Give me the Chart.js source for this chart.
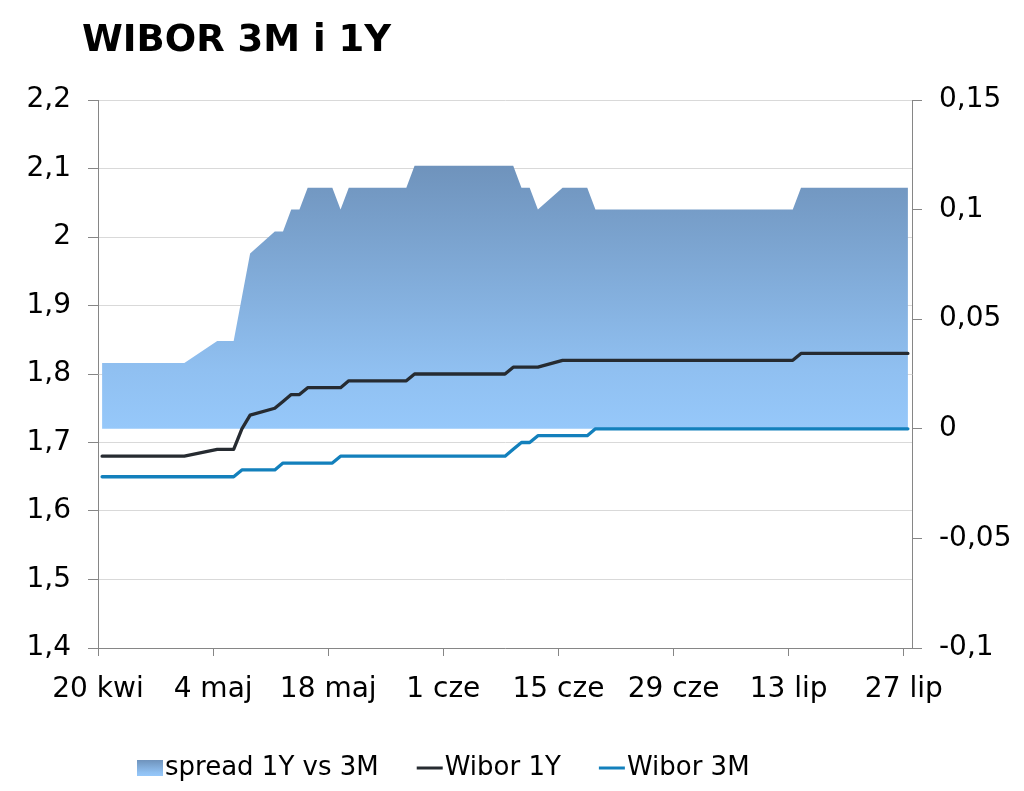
<!DOCTYPE html>
<html>
<head>
<meta charset="utf-8">
<title>WIBOR 3M i 1Y</title>
<script src="https://cdn.jsdelivr.net/npm/chart.js@4.4.1/dist/chart.umd.min.js"></script>
<style>
  body { margin: 0; background: #fff; }
  #wrap { width: 1024px; height: 791px; position: relative; }
</style>
</head>
<body>
<div id="wrap"><canvas id="wiborChart"></canvas></div>
<script>
const chartTitle = "WIBOR 3M i 1Y";

// fixing days (2015), weekends and holidays left out
const dates = [
  "2015-04-20", "2015-04-21", "2015-04-22", "2015-04-23", "2015-04-24",
  "2015-04-27", "2015-04-28", "2015-04-29", "2015-04-30",
  "2015-05-04", "2015-05-05", "2015-05-06", "2015-05-07", "2015-05-08",
  "2015-05-11", "2015-05-12", "2015-05-13", "2015-05-14", "2015-05-15",
  "2015-05-18", "2015-05-19", "2015-05-20", "2015-05-21", "2015-05-22",
  "2015-05-25", "2015-05-26", "2015-05-27", "2015-05-28", "2015-05-29",
  "2015-06-01", "2015-06-02", "2015-06-03", "2015-06-05",
  "2015-06-08", "2015-06-09", "2015-06-10", "2015-06-11", "2015-06-12",
  "2015-06-15", "2015-06-16", "2015-06-17", "2015-06-18", "2015-06-19",
  "2015-06-22", "2015-06-23", "2015-06-24", "2015-06-25", "2015-06-26",
  "2015-06-29", "2015-06-30", "2015-07-01", "2015-07-02", "2015-07-03",
  "2015-07-06", "2015-07-07", "2015-07-08", "2015-07-09", "2015-07-10",
  "2015-07-13", "2015-07-14", "2015-07-15", "2015-07-16", "2015-07-17",
  "2015-07-20", "2015-07-21", "2015-07-22", "2015-07-23", "2015-07-24",
  "2015-07-27"
];

const wibor1Y = [
  1.68, 1.68, 1.68, 1.68, 1.68,
  1.68, 1.68, 1.68, 1.68,
  1.69, 1.69, 1.69, 1.72, 1.74,
  1.75, 1.76, 1.77, 1.77, 1.78,
  1.78, 1.78, 1.79, 1.79, 1.79,
  1.79, 1.79, 1.79, 1.80, 1.80,
  1.80, 1.80, 1.80, 1.80,
  1.80, 1.81, 1.81, 1.81, 1.81,
  1.82, 1.82, 1.82, 1.82, 1.82,
  1.82, 1.82, 1.82, 1.82, 1.82,
  1.82, 1.82, 1.82, 1.82, 1.82,
  1.82, 1.82, 1.82, 1.82, 1.82,
  1.82, 1.83, 1.83, 1.83, 1.83,
  1.83, 1.83, 1.83, 1.83, 1.83,
  1.83
];

const wibor3M = [
  1.65, 1.65, 1.65, 1.65, 1.65,
  1.65, 1.65, 1.65, 1.65,
  1.65, 1.65, 1.65, 1.66, 1.66,
  1.66, 1.67, 1.67, 1.67, 1.67,
  1.67, 1.68, 1.68, 1.68, 1.68,
  1.68, 1.68, 1.68, 1.68, 1.68,
  1.68, 1.68, 1.68, 1.68,
  1.68, 1.69, 1.70, 1.70, 1.71,
  1.71, 1.71, 1.71, 1.71, 1.72,
  1.72, 1.72, 1.72, 1.72, 1.72,
  1.72, 1.72, 1.72, 1.72, 1.72,
  1.72, 1.72, 1.72, 1.72, 1.72,
  1.72, 1.72, 1.72, 1.72, 1.72,
  1.72, 1.72, 1.72, 1.72, 1.72,
  1.72
];

// spread 1Y vs 3M (right axis)
const spread = [
  0.03, 0.03, 0.03, 0.03, 0.03,
  0.03, 0.03, 0.03, 0.03,
  0.04, 0.04, 0.04, 0.06, 0.08,
  0.09, 0.09, 0.10, 0.10, 0.11,
  0.11, 0.10, 0.11, 0.11, 0.11,
  0.11, 0.11, 0.11, 0.12, 0.12,
  0.12, 0.12, 0.12, 0.12,
  0.12, 0.12, 0.11, 0.11, 0.10,
  0.11, 0.11, 0.11, 0.11, 0.10,
  0.10, 0.10, 0.10, 0.10, 0.10,
  0.10, 0.10, 0.10, 0.10, 0.10,
  0.10, 0.10, 0.10, 0.10, 0.10,
  0.10, 0.11, 0.11, 0.11, 0.11,
  0.11, 0.11, 0.11, 0.11, 0.11,
  0.11
];

const tickDates = ["2015-04-20", "2015-05-04", "2015-05-18", "2015-06-01", "2015-06-15", "2015-06-29", "2015-07-13", "2015-07-27"];
const tickLabels = ["20 kwi", "4 maj", "18 maj", "1 cze", "15 cze", "29 cze", "13 lip", "27 lip"];

// days counted from the first fixing
function dayOf(s) {
  return Math.round((Date.parse(s) - Date.parse(dates[0])) / 86400000);
}
const days = dates.map(dayOf);
const lastDay = days[days.length - 1];

function toPoints(values) {
  return values.map((v, i) => ({ x: days[i], y: v }));
}

function plFormat(v) {
  return String(Number(v.toFixed(2))).replace(".", ",");
}

const FONT = "'DejaVu Sans', Verdana, sans-serif";
const axisGrey = "#868686";

function spreadGradient(ctx, top, bottom) {
  const g = ctx.createLinearGradient(0, top, 0, bottom);
  g.addColorStop(0, "#6f93bc");
  g.addColorStop(0.78, "#90c0f1");
  g.addColorStop(1, "#96c8fa");
  return g;
}

// title + legend drawn by hand so they sit where the original has them
const titleAndLegend = {
  id: "titleAndLegend",
  afterDraw(chart) {
    const ctx = chart.ctx;
    ctx.save();
    ctx.fillStyle = "#000";
    ctx.textBaseline = "alphabetic";
    ctx.font = "bold 37px " + FONT;
    ctx.fillText(chartTitle, 82, 51);

    ctx.font = "26px " + FONT;
    ctx.textBaseline = "middle";
    let x = 137;
    const y = 768;
    chart.data.datasets.forEach(ds => {
      if (ds.fill) {
        ctx.fillStyle = spreadGradient(ctx, y - 8, y + 8);
        ctx.fillRect(x, y - 8, 26, 16);
      } else {
        ctx.strokeStyle = ds.borderColor;
        ctx.lineWidth = 3;
        ctx.beginPath();
        ctx.moveTo(x, y);
        ctx.lineTo(x + 26, y);
        ctx.stroke();
      }
      ctx.fillStyle = "#000";
      ctx.fillText(ds.label, x + 28, y);
      x += 28 + ctx.measureText(ds.label).width + 38;
    });
    ctx.restore();
  }
};

Chart.defaults.font.family = FONT;
Chart.defaults.color = "#000";

const ctx = document.getElementById("wiborChart").getContext("2d");

new Chart(ctx, {
  type: "line",
  data: {
    datasets: [
      {
        label: "spread 1Y vs 3M",
        data: toPoints(spread),
        yAxisID: "y2",
        fill: "origin",
        borderWidth: 0,
        pointRadius: 0,
        order: 2,
        backgroundColor: c => {
          const chart = c.chart;
          if (!chart.chartArea) return "#8fb8e6";
          const s = chart.scales.y2;
          return spreadGradient(chart.ctx, s.getPixelForValue(Math.max(...spread)), s.getPixelForValue(0));
        }
      },
      {
        label: "Wibor 1Y",
        data: toPoints(wibor1Y),
        yAxisID: "y",
        borderColor: "#262b31",
        borderWidth: 3.3,
        pointRadius: 0,
        fill: false,
        order: 1,
        borderJoinStyle: "round",
        borderCapStyle: "round"
      },
      {
        label: "Wibor 3M",
        data: toPoints(wibor3M),
        yAxisID: "y",
        borderColor: "#1380bc",
        borderWidth: 3.3,
        pointRadius: 0,
        fill: false,
        order: 0,
        borderJoinStyle: "round",
        borderCapStyle: "round"
      }
    ]
  },
  options: {
    responsive: true,
    maintainAspectRatio: false,
    animation: false,
    layout: { padding: { top: 100, bottom: 83, left: 0, right: 0 } },
    plugins: {
      legend: { display: false },
      title: { display: false },
      tooltip: { enabled: false }
    },
    scales: {
      x: {
        type: "linear",
        // points sit in the middle of their day, like the original date axis
        min: -0.5,
        max: lastDay + 0.5,
        afterBuildTicks: scale => {
          scale.ticks = tickDates.map(d => ({ value: dayOf(d) - 0.5 }));
        },
        afterFit: scale => { scale.height = 60; },
        ticks: {
          autoSkip: false,
          maxRotation: 0,
          padding: 17,
          font: { size: 28 },
          callback: (v, i) => tickLabels[i]
        },
        grid: { drawOnChartArea: false, drawTicks: true, tickLength: 8, color: axisGrey },
        border: { color: axisGrey }
      },
      y: {
        position: "left",
        min: 1.4,
        max: 2.2,
        afterFit: scale => { scale.width = 98; },
        ticks: { stepSize: 0.1, padding: 17, font: { size: 28 }, callback: v => plFormat(v) },
        grid: { color: "#d9d9d9", tickColor: axisGrey, tickLength: 10 },
        border: { color: axisGrey }
      },
      y2: {
        position: "right",
        min: -0.1,
        max: 0.15,
        afterFit: scale => { scale.width = 112; },
        ticks: { stepSize: 0.05, padding: 17, font: { size: 28 }, callback: v => plFormat(v) },
        grid: { drawOnChartArea: false, tickLength: 10, color: axisGrey },
        border: { color: axisGrey }
      }
    }
  },
  plugins: [titleAndLegend]
});
</script>
</body>
</html>
